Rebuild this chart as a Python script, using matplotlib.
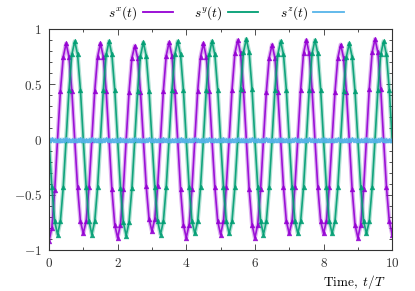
import numpy as np
import matplotlib
matplotlib.use("Agg")
import matplotlib.pyplot as plt
from matplotlib.lines import Line2D
from matplotlib.ticker import MultipleLocator

plt.rcParams['mathtext.fontset'] = 'cm'
plt.rcParams['font.family'] = ['DejaVu Serif']

# time grid, t/T sampled every 1/12 of a period
t = np.linspace(0, 10, 121)

# spin components, one row per period
sx = [
    -0.92, -0.80, -0.46, 0.0, 0.44, 0.75, 0.87, 0.75, 0.44, 0.0, -0.43, -0.74,
    -0.85, -0.74, -0.43, 0.0, 0.44, 0.75, 0.87, 0.75, 0.44, 0.0, -0.45, -0.77,
    -0.89, -0.77, -0.45, 0.0, 0.43, 0.74, 0.85, 0.74, 0.43, 0.0, -0.42, -0.72,
    -0.83, -0.72, -0.42, 0.0, 0.44, 0.76, 0.88, 0.76, 0.44, 0.0, -0.45, -0.77,
    -0.89, -0.77, -0.45, 0.0, 0.44, 0.75, 0.87, 0.75, 0.44, 0.0, -0.43, -0.74,
    -0.86, -0.74, -0.43, 0.0, 0.45, 0.78, 0.90, 0.78, 0.45, 0.0, -0.45, -0.77,
    -0.89, -0.77, -0.45, 0.0, 0.43, 0.74, 0.86, 0.74, 0.43, 0.0, -0.43, -0.74,
    -0.85, -0.74, -0.43, 0.0, 0.45, 0.78, 0.90, 0.78, 0.45, 0.0, -0.43, -0.74,
    -0.85, -0.74, -0.43, 0.0, 0.43, 0.74, 0.86, 0.74, 0.43, 0.0, -0.45, -0.77,
    -0.89, -0.77, -0.45, 0.0, 0.46, 0.79, 0.91, 0.79, 0.46, 0.0, -0.43, -0.74,
    -0.86,
]

sy = [
    0.0, -0.43, -0.74, -0.86, -0.74, -0.43, 0.0, 0.45, 0.77, 0.89, 0.77, 0.45,
    0.0, -0.43, -0.74, -0.86, -0.74, -0.43, 0.0, 0.45, 0.77, 0.89, 0.77, 0.45,
    0.0, -0.44, -0.75, -0.87, -0.75, -0.44, 0.0, 0.44, 0.76, 0.88, 0.76, 0.44,
    0.0, -0.43, -0.74, -0.86, -0.74, -0.43, 0.0, 0.45, 0.77, 0.89, 0.77, 0.45,
    0.0, -0.43, -0.74, -0.85, -0.74, -0.43, 0.0, 0.45, 0.77, 0.89, 0.77, 0.45,
    0.0, -0.43, -0.74, -0.85, -0.74, -0.43, 0.0, 0.46, 0.79, 0.91, 0.79, 0.46,
    0.0, -0.43, -0.74, -0.86, -0.74, -0.43, 0.0, 0.45, 0.77, 0.89, 0.77, 0.45,
    0.0, -0.43, -0.74, -0.85, -0.74, -0.43, 0.0, 0.45, 0.78, 0.90, 0.78, 0.45,
    0.0, -0.43, -0.74, -0.85, -0.74, -0.43, 0.0, 0.44, 0.75, 0.87, 0.75, 0.44,
    0.0, -0.43, -0.74, -0.85, -0.74, -0.43, 0.0, 0.45, 0.77, 0.89, 0.77, 0.45,
    0.0,
]

sz = [
    0.0, 0.005, 0.0, -0.005, 0.0, 0.0, 0.005, 0.0, -0.005, 0.0, 0.0, 0.005,
    0.0, -0.005, 0.0, 0.005, 0.0, 0.0, -0.005, 0.0, 0.005, 0.0, -0.005, 0.0,
    0.0, 0.005, 0.0, -0.005, 0.0, 0.0, 0.005, 0.0, 0.0, -0.005, 0.0, 0.005,
    0.0, 0.0, -0.005, 0.0, 0.005, 0.0, 0.0, -0.005, 0.0, 0.0, 0.005, 0.0,
    -0.005, 0.0, 0.0, 0.005, 0.0, -0.005, 0.0, 0.0, 0.005, 0.0, 0.0, -0.005,
    0.0, 0.005, 0.0, 0.0, -0.005, 0.0, 0.005, 0.0, 0.0, -0.005, 0.0, 0.005,
    0.0, 0.0, -0.005, 0.0, 0.005, 0.0, -0.005, 0.0, 0.0, 0.005, 0.0, 0.0,
    -0.005, 0.0, 0.005, 0.0, 0.0, -0.005, 0.0, 0.005, 0.0, 0.0, -0.005, 0.0,
    0.005, 0.0, 0.0, -0.005, 0.0, 0.005, 0.0, -0.005, 0.0, 0.0, 0.005, 0.0,
    0.0, -0.005, 0.0, 0.005, 0.0, 0.0, -0.005, 0.0, 0.005, 0.0, 0.0, -0.005,
    0.0,
]

labels = [r'$s^x(t)$', r'$s^y(t)$', r'$s^z(t)$']
colors = ['#9400d3', '#009e73', '#56b4e9']

xticks = [0, 2, 4, 6, 8, 10]
yticks = [-1, -0.5, 0, 0.5, 1]

fig = plt.figure(figsize=(4.15, 2.91), dpi=100)
ax = fig.add_axes([0.118, 0.141, 0.827, 0.759])

for y, c in zip([sx, sy, sz], colors):
    # pale band of overlapping points, then the solid line on top
    ax.plot(t, y, color=c, lw=3.0, alpha=0.3, solid_capstyle='round')
    ax.plot(t, y, color=c, lw=1.2, marker='^', ms=3.5, mfc=c, mec=c,
            alpha=0.9, markeredgewidth=0.3)

ax.set_xlim(0, 10)
ax.set_ylim(-1, 1)
ax.set_xticks(xticks)
ax.set_xticklabels([f'${v}$' for v in xticks])
ax.set_yticks(yticks)
ax.set_yticklabels([f'${v:g}$' for v in yticks])
ax.xaxis.set_minor_locator(MultipleLocator(1))
ax.yaxis.set_minor_locator(MultipleLocator(0.1))
ax.tick_params(which='both', direction='in', top=True, right=True,
               labelsize=9.5, colors='#333333', width=0.6)
ax.tick_params(which='major', length=4, pad=5)
ax.tick_params(which='minor', length=2)
for s in ax.spines.values():
    s.set_linewidth(0.8)
    s.set_color('#333333')

ax.set_xlabel(r'$\mathrm{Time,}\ t/T$', fontsize=9.5)
ax.xaxis.set_label_coords(0.89, -0.105)

handles = [Line2D([], [], color=c, lw=1.3) for c in colors]
ax.legend(handles, labels, loc='lower center', bbox_to_anchor=(0.515, 0.995),
          ncol=3, frameon=False, markerfirst=False, fontsize=9.5,
          handlelength=2.3, columnspacing=1.6, handletextpad=0.45,
          borderaxespad=0.2)

fig.savefig('out.png', dpi=100)
